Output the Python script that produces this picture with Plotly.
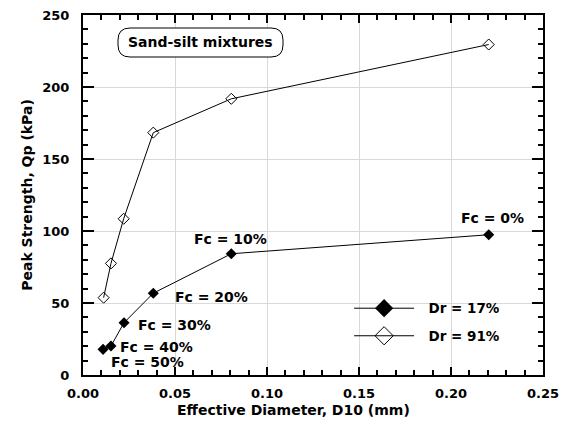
import plotly.graph_objects as go

d10_17 = [0.0109, 0.0152, 0.0223, 0.0382, 0.0806, 0.2205]
qp_17 = [17.8, 20.1, 36.3, 56.8, 84.2, 97.4]
d10_91 = [0.0112, 0.0152, 0.0221, 0.0382, 0.0806, 0.2205]
qp_91 = [53.7, 77.5, 108.5, 168.3, 191.8, 229.5]

fc_labels = ["Fc = 0%", "Fc = 10%", "Fc = 20%", "Fc = 30%", "Fc = 40%", "Fc = 50%"]
fc_x = [0.2224, 0.0799, 0.0698, 0.0499, 0.0397, 0.0348]
fc_y = [109, 94.4, 54.4, 34.5, 19.2, 9.3]

series_names = ["Dr = 17%", "Dr = 91%"]

FONT = "DejaVu Sans"

fig = go.Figure()
fig.add_trace(go.Scatter(x=d10_17, y=qp_17, mode="lines+markers", showlegend=False,
                         line=dict(color="black", width=1),
                         marker=dict(symbol="diamond", size=8.5, color="black")))
fig.add_trace(go.Scatter(x=d10_91, y=qp_91, mode="lines+markers", showlegend=False,
                         line=dict(color="black", width=1),
                         marker=dict(symbol="diamond-open", size=8.5, color="black",
                                     line=dict(color="black", width=1))))
# legend entries (larger legend symbols, no data of their own)
fig.add_trace(go.Scatter(x=[None], y=[None], mode="lines+markers",
                         name="\u00a0\u00a0" + series_names[0], legendgroup="a",
                         line=dict(color="black", width=1),
                         marker=dict(symbol="diamond", size=14, color="black")))
fig.add_trace(go.Scatter(x=[None], y=[None], mode="lines+markers",
                         name="\u00a0\u00a0" + series_names[1], legendgroup="b",
                         line=dict(color="black", width=1),
                         marker=dict(symbol="diamond-open", size=14, color="black",
                                     line=dict(color="black", width=1))))

for t, x, y in zip(fc_labels, fc_x, fc_y):
    fig.add_annotation(x=x, y=y, text=t, showarrow=False, xanchor="center", yanchor="middle",
                       font=dict(family=FONT, size=14, color="black", weight="bold"))

# rounded title box
W, H = 562, 421
L, R, T, B = 83, 19, 15, 46
pw, ph = W - L - R, H - T - B
x0, x1, y0, y1, r = 118, 283, 28, 57, 12
def px(x):
    return (x - L) / pw
def py(y):
    return 1 - (y - T) / ph
rx = r / pw
ry = r / ph
X0, X1, Y0, Y1 = px(x0), px(x1), py(y1), py(y0)
path = (f"M {X0+rx},{Y0} L {X1-rx},{Y0} Q {X1},{Y0} {X1},{Y0+ry} L {X1},{Y1-ry} "
        f"Q {X1},{Y1} {X1-rx},{Y1} L {X0+rx},{Y1} Q {X0},{Y1} {X0},{Y1-ry} "
        f"L {X0},{Y0+ry} Q {X0},{Y0} {X0+rx},{Y0} Z")
fig.add_shape(type="path", path=path, xref="paper", yref="paper",
              line=dict(color="black", width=1), fillcolor="white")
fig.add_annotation(x=(X0 + X1) / 2, y=(Y0 + Y1) / 2, xref="paper", yref="paper",
                   xanchor="center", yanchor="middle",
                   text="Sand-silt mixtures", showarrow=False,
                   font=dict(family=FONT, size=14, color="black", weight="bold"))

tickfont = dict(family=FONT, size=13, color="black", weight="bold")
titlefont = dict(family=FONT, size=14, color="black", weight="bold")

# x-axis title (offset left of centre as in the reference)
fig.add_annotation(x=px(293), y=py(410), xref="paper", yref="paper",
                   xanchor="center", yanchor="middle", showarrow=False,
                   text="Effective Diameter, D10 (mm)", font=titlefont)

axis_common = dict(showline=True, linecolor="black", linewidth=2, mirror="ticks",
                   ticks="inside", tickwidth=1.5, tickcolor="black",
                   showgrid=True, gridcolor="#d9d9d9", gridwidth=1, zeroline=False,
                   automargin=False, tickfont=tickfont)

fig.update_xaxes(range=[0, 0.25], dtick=0.05, tickformat=".2f", ticklen=8,
                 ticklabelstandoff=5,
                 minor=dict(dtick=0.01, ticks="inside", ticklen=5, tickcolor="black", showgrid=False),
                 **axis_common)
fig.update_yaxes(range=[0, 250], dtick=50, ticklen=11,
                 ticklabelstandoff=9,
                 minor=dict(dtick=10, ticks="inside", ticklen=5, tickcolor="black", showgrid=False),
                 title=dict(text="Peak Strength, Qp (kPa)", standoff=6, font=titlefont),
                 **axis_common)

fig.update_layout(width=W, height=H, margin=dict(l=L, r=R, t=T, b=B),
                  paper_bgcolor="white", plot_bgcolor="white",
                  font=dict(family=FONT, color="black"),
                  legend=dict(x=0.5785, y=0.146, xanchor="left", yanchor="middle",
                              bgcolor="rgba(0,0,0,0)", itemwidth=60,
                              traceorder="grouped", tracegroupgap=7,
                              font=dict(family=FONT, size=13.5, color="black", weight="bold")))

fig.write_html("out.html")
